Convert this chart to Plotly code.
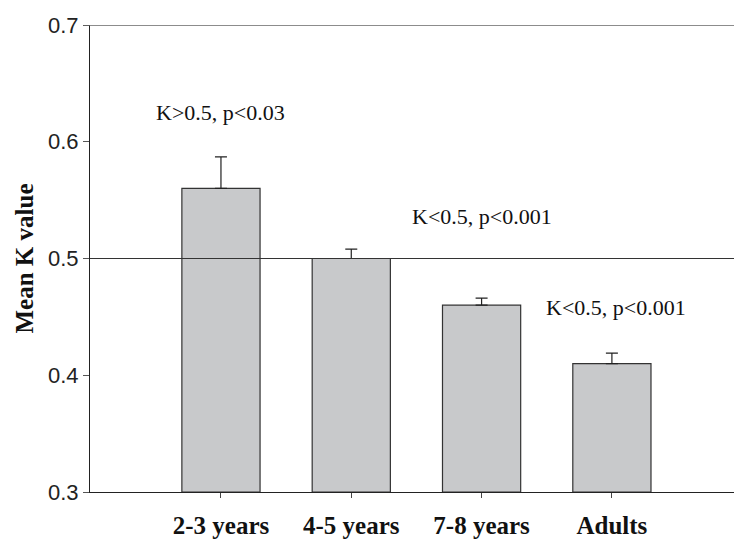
import plotly.graph_objects as go

# Mean K value by age group, with standard error bars
groups = ["2-3 years", "4-5 years", "7-8 years", "Adults"]
mean_k = [0.56, 0.50, 0.46, 0.41]
sem_k = [0.027, 0.008, 0.006, 0.009]

# Significance notes: (group position, y value, text)
note_x = [0.0, 2.0, 3.03]
note_y = [0.625, 0.536, 0.458]
note_text = ["K>0.5, p<0.03", "K<0.5, p<0.001", "K<0.5, p<0.001"]

fig = go.Figure()
fig.add_trace(go.Bar(
    x=list(range(len(groups))),
    y=[m - 0.3 for m in mean_k],
    base=0.3,
    width=0.6,
    marker=dict(color="#c8c9cb", line=dict(color="#333333", width=1.2)),
    error_y=dict(type="data", symmetric=False, array=sem_k, arrayminus=[0] * 4,
                 color="#222222", thickness=1.2, width=6),
    showlegend=False,
))

for x, y, t in zip(note_x, note_y, note_text):
    fig.add_annotation(x=x, y=y, text=t, showarrow=False, xref="x", yref="y",
                       font=dict(family="Liberation Serif", size=22, color="#111111"))

# Y axis title
fig.add_annotation(x=0, y=0.5, xref="paper", yref="paper", xanchor="center",
                   yanchor="middle", xshift=-66, textangle=-90, showarrow=False,
                   text="<b>Mean K value</b>",
                   font=dict(family="Liberation Serif", size=25, color="#111111"))

# Reference line at K = 0.5 and top frame line at 0.7
fig.add_shape(type="line", xref="paper", yref="y", x0=0, x1=1, y0=0.5, y1=0.5,
              line=dict(color="#333333", width=1.2), layer="above")
fig.add_shape(type="line", xref="paper", yref="y", x0=-0.01, x1=1, y0=0.7, y1=0.7,
              line=dict(color="#666666", width=1.5), layer="above")

fig.update_layout(
    width=734, height=539,
    margin=dict(l=90, r=0, t=25, b=47, autoexpand=False),
    plot_bgcolor="white", paper_bgcolor="white",
    xaxis=dict(
        range=[-1.005, 3.937],
        tickmode="array", tickvals=list(range(len(groups))),
        ticktext=["<b>%s</b>" % g for g in groups],
        showline=True, linecolor="#222222", linewidth=1.2,
        ticks="outside", ticklen=5, tickcolor="#444444", tickwidth=1,
        ticklabelstandoff=6,
        tickfont=dict(family="Liberation Serif", size=25, color="#111111"),
        showgrid=False, zeroline=False, automargin=False,
    ),
    yaxis=dict(
        range=[0.3, 0.7],
        tickvals=[0.3, 0.4, 0.5, 0.6, 0.7], ticktext=["0.3", "0.4", "0.5", "0.6", "0.7"],
        showline=True, linecolor="#222222", linewidth=1.2,
        ticks="outside", ticklen=6, tickcolor="#555555", tickwidth=1.2,
        tickfont=dict(family="Liberation Sans", size=22, color="#222222"),
        showgrid=False, zeroline=False, automargin=False,
    ),
)

fig.write_html("out.html")
